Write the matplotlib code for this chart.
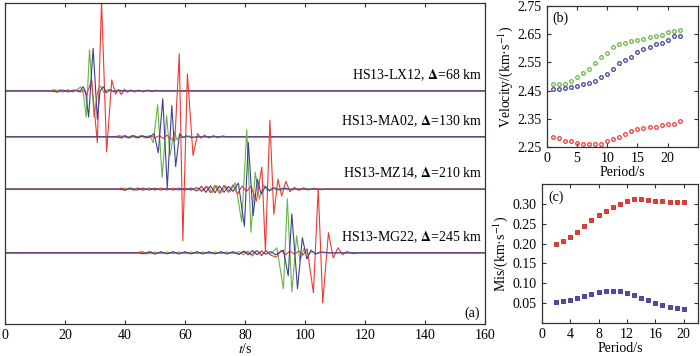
import matplotlib.pyplot as plt

plt.rcParams['font.family'] = ['Liberation Serif', 'DejaVu Serif']
plt.rcParams['mathtext.fontset'] = 'stix'
plt.rcParams['font.size'] = 10

GREEN = '#66b644'
BLUE = '#3f3f99'
RED = '#ee3a32'

# --- (a) waveforms: (time s, amplitude) extrema ---
stations = ['HS13-LX12', 'HS13-MA02', 'HS13-MZ14', 'HS13-MG22']
distances = [68, 130, 210, 245]
offsets = [5.08, 4.08, 2.94, 1.55]

lx12_green = [(15, 0), (18, 0.02), (19, -0.02), (21, 0.02), (22.5, -0.02), (24, 0.02), (25.3, 0.09), (26.1, -0.04),
              (27.1, -0.57), (28.2, 0.90), (29.7, -0.57), (31.0, 0.02), (31.9, 0.11), (33.0, -0.04), (34.2, 0.03),
              (35.5, -0.02), (37, 0.02), (38.5, -0.015), (40, 0)]
lx12_blue = [(15, 0), (17.5, -0.02), (19.5, 0.02), (21, -0.02), (23, 0.02), (24.8, -0.02), (26.1, 0.09), (26.9, -0.02),
             (27.9, -0.57), (29.4, 0.93), (30.8, -0.62), (31.7, 0.0), (32.8, 0.09), (33.8, -0.04), (35, 0.03),
             (36.4, -0.02), (38, 0.015), (40, 0)]
lx12_red = [(15, 0), (16.5, 0.025), (17.5, -0.03), (18.5, 0.025), (19.5, -0.025), (21, 0.02), (22.5, -0.02), (24, 0.02),
            (25.5, -0.025), (26.3, 0.02), (27.2, -0.09), (28.9, 0.24), (30.8, -1.13), (32.2, 1.95), (33.9, -1.33),
            (35.6, 0.24), (36.9, -0.07), (37.8, 0.03), (38.8, -0.08), (39.8, 0.04), (40.8, -0.03), (42, 0.025),
            (43.2, -0.025), (44.5, 0.02), (46, -0.02), (47.5, 0.02), (49, -0.015), (50.5, 0.015), (52, 0)]

ma02_green = [(37, 0), (39, 0.02), (40.5, -0.02), (42, 0.02), (43.5, -0.02), (45, 0.02), (46.5, -0.02), (48.3, 0.03),
              (49.4, -0.13), (50.9, 0.70), (52.4, -0.89), (53.9, 0.46), (55.0, -0.41), (56.4, 0.11), (57.4, -0.07),
              (58.5, 0.03), (60, -0.02), (61.5, 0.02), (63, -0.015), (65, 0)]
ma02_blue = [(37, 0), (38.5, -0.02), (40, 0.02), (41.5, -0.025), (43, 0.025), (44.5, -0.02), (46, 0.02), (48, -0.02),
             (49.7, 0.07), (51.1, -0.35), (52.6, 0.83), (54.1, -1.11), (55.6, 0.68), (56.9, -0.65), (58.2, 0.07),
             (59.2, -0.02), (60.5, 0.02), (62, -0.015), (64, 0)]
ma02_red = [(37, 0), (38, 0.025), (39, -0.03), (40, 0.03), (41, -0.025), (42.5, 0.025), (44, -0.025), (45.5, 0.025),
            (47, -0.025), (48.5, 0.02), (50, -0.025), (51.5, 0.025), (52.8, -0.035), (54, 0.035), (55.2, -0.03),
            (56.6, -0.09), (58.1, 1.81), (59.3, -2.27), (60.8, 1.37), (62.7, -0.41), (64.2, 0.07), (65.3, -0.03),
            (66.5, 0.035), (68, -0.025), (69.5, 0.025), (71, -0.02), (72.5, 0.02), (74, 0)]

mz14_green = [(38, 0), (40, 0.02), (42, -0.02), (44, 0.02), (46, -0.02), (48, 0.02), (50, -0.02), (52, 0.02),
              (54, -0.015), (56, 0.015), (58, -0.02), (60, 0.02), (62, -0.02), (64, 0.03), (66, -0.04), (67.5, 0.06),
              (69, -0.08), (70.5, 0.08), (72, -0.08), (73.5, 0.07), (75, -0.06), (76.8, 0.14), (78.9, -0.72),
              (80.6, 1.29), (82.0, -0.94), (83.4, 0.37), (84.8, -0.22), (86.2, 0.09), (87.5, -0.04), (89, 0.03),
              (90.5, -0.02), (92, 0.02), (94, -0.015), (96, 0)]
mz14_blue = [(38, 0), (40, -0.02), (42, 0.02), (44, -0.02), (46, 0.02), (48, -0.02), (50, 0.02), (52, -0.02),
             (54, 0.02), (56, -0.02), (58, 0.02), (60, -0.02), (62, 0.02), (64, -0.04), (65.5, 0.06), (67, -0.07),
             (68.5, 0.07), (70, -0.08), (71.5, 0.07), (73, -0.07), (74.5, 0.06), (76, -0.05), (77.8, 0.13),
             (79.8, -0.81), (81.1, 1.02), (82.7, -0.58), (84.1, 0.22), (85.4, -0.11), (86.8, 0.06), (88.2, -0.04),
             (89.8, 0.03), (91.5, -0.02), (93, 0.02), (95, 0)]
mz14_red = [(38, 0), (39, 0.025), (40, -0.03), (41.5, 0.025), (43, -0.025), (44.5, 0.025), (46, -0.025), (48, 0.02),
            (50, -0.02), (52, 0.02), (54, -0.02), (56, 0.02), (58, -0.02), (60, 0.02), (62, -0.02), (64, 0.03),
            (65.5, -0.05), (67, 0.06), (68.5, -0.08), (70, 0.08), (71.5, -0.09), (73, 0.08), (74.5, -0.07),
            (76, 0.09), (77.5, -0.11), (79, 0.07), (80.5, -0.05), (82, 0.06), (83.8, -0.26), (85.6, 0.48),
            (86.8, -1.35), (88.3, 1.50), (89.6, -0.55), (91, 0.22), (92.2, -0.15), (93.6, 0.17), (95, -0.06),
            (96.5, 0.04), (98, -0.03), (99.5, 0.03), (101, -0.02), (103, 0.02), (105, -0.015), (107, 0)]

mg22_green = [(44, 0), (46, 0.02), (48, -0.02), (50, 0.02), (52, -0.02), (54, 0.02), (56, -0.02), (58, 0.02),
              (60, -0.02), (62, 0.02), (64, -0.02), (66, 0.02), (68, -0.02), (70, 0.02), (72, -0.02), (74, 0.02),
              (76, -0.015), (78, 0.03), (79.5, -0.04), (81, 0.04), (82.5, -0.07), (84, 0.05), (85.5, -0.04),
              (87, 0.04), (88.5, -0.03), (90.6, 0.11), (92.8, -0.78), (94.1, 1.18), (95.6, -0.85), (97.2, 0.37),
              (98.3, -0.17), (99.6, 0.09), (101, -0.04), (102.5, 0.03), (104, -0.02), (106, 0.02), (108, 0)]
mg22_blue = [(44, 0), (46, -0.02), (48, 0.02), (50, -0.02), (52, 0.02), (54, -0.02), (56, 0.02), (58, -0.02),
             (60, 0.02), (62, -0.02), (64, 0.02), (66, -0.02), (68, 0.02), (70, -0.02), (72, 0.02), (74, -0.02),
             (76, 0.02), (78, -0.03), (79.5, 0.04), (81, -0.04), (82.5, 0.05), (84, -0.04), (85.5, 0.04),
             (87, -0.03), (88.5, 0.03), (90.2, -0.04), (92.8, 0.06), (94.4, -0.50), (95.6, 0.85), (97.5, -0.78),
             (99.1, 0.33), (100.6, -0.13), (102, 0.06), (103.5, -0.03), (105, 0.02), (107, 0)]
mg22_red = [(44, 0), (45.5, 0.025), (47, -0.025), (48.5, 0.025), (50, -0.025), (52, 0.02), (54, -0.02), (56, 0.02),
            (58, -0.02), (60, 0.02), (62, -0.02), (64, 0.02), (66, -0.02), (68, 0.02), (70, -0.02), (72, 0.02),
            (74, -0.02), (76, 0.02), (78, -0.03), (80, 0.03), (82, -0.04), (84, 0.05), (85.5, -0.06), (87, 0.05),
            (88.5, -0.05), (90.5, -0.09), (92, 0.05), (93.5, -0.04), (95, 0.04), (96.5, -0.03), (98, 0.04),
            (99.3, -0.05), (100.7, 0.09), (102.8, -0.87), (104.4, 1.40), (105.9, -1.09), (107.8, 0.44),
            (109.4, -0.11), (111, 0.11), (112.5, -0.04), (114, 0.03), (116, -0.02), (118, 0)]

traces = [
    (lx12_green, lx12_red, lx12_blue),
    (ma02_green, ma02_red, ma02_blue),
    (mz14_green, mz14_red, mz14_blue),
    (mg22_green, mg22_red, mg22_blue),
]

# --- (b) dispersion velocities ---
period_b = list(range(1, 23))
vel_green = [2.473, 2.473, 2.473, 2.484, 2.497, 2.514, 2.527, 2.549, 2.569, 2.584, 2.604,
             2.615, 2.620, 2.625, 2.630, 2.634, 2.640, 2.644, 2.649, 2.658, 2.660, 2.664]
vel_blue = [2.457, 2.457, 2.461, 2.463, 2.468, 2.473, 2.478, 2.484, 2.497, 2.509, 2.527,
            2.549, 2.558, 2.569, 2.586, 2.598, 2.604, 2.614, 2.620, 2.630, 2.644, 2.644]
vel_red = [2.285, 2.281, 2.270, 2.270, 2.266, 2.261, 2.261, 2.261, 2.261, 2.270, 2.278,
           2.287, 2.297, 2.308, 2.313, 2.317, 2.322, 2.322, 2.327, 2.333, 2.333, 2.343]

# --- (c) misfit ---
period_c = list(range(2, 21))
mis_red = [0.198, 0.206, 0.217, 0.230, 0.244, 0.259, 0.272, 0.283, 0.292, 0.300,
           0.307, 0.312, 0.312, 0.309, 0.308, 0.307, 0.305, 0.305, 0.306]
mis_blue = [0.053, 0.054, 0.057, 0.062, 0.068, 0.074, 0.077, 0.081, 0.081, 0.081,
            0.076, 0.071, 0.063, 0.057, 0.050, 0.044, 0.041, 0.037, 0.034]

T_END = 160


def style_box(ax):
    for sp in ax.spines.values():
        sp.set_linewidth(0.9)
        sp.set_color('#333333')
    ax.tick_params(direction='in', top=True, right=True, length=3, width=0.8,
                   colors='#333333', labelcolor='black', labelsize=10)


fig = plt.figure(figsize=(7.0, 3.56), dpi=100)

# (a)
ax = fig.add_axes([0.007, 0.09, 0.686, 0.902])
for off, comps in zip(offsets, traces):
    for pts, col in zip(comps, [GREEN, RED, BLUE]):
        t = [0] + [p[0] for p in pts] + [T_END]
        a = [off] + [off + p[1] for p in pts] + [off]
        ax.plot(t, a, color=col, lw=0.8)
for name, dist, off in zip(stations, distances, offsets):
    ax.text(159, off + 0.34, f'{name}, $\\mathbf{{\\Delta}}$={dist} km', ha='right', va='center', fontsize=10)
ax.text(155.6, 0.24, '(a)', ha='center', va='center', fontsize=10)
ax.set_xlim(0, 160)
ax.set_ylim(0, 7)
ax.set_xticks(range(0, 161, 20))
ax.set_yticks([])
style_box(ax)
ax.tick_params(right=False)
ax.set_xlabel('$t$/s', labelpad=0)

# (b)
axb = fig.add_axes([0.781, 0.587, 0.216, 0.396])
for v, col in [(vel_green, GREEN), (vel_blue, BLUE), (vel_red, RED)]:
    axb.plot(period_b, v, 'o', ls='none', ms=2.6, mfc='none', mec=col, mew=0.9)
axb.set_xlim(0, 25)
axb.set_ylim(2.25, 2.75)
axb.set_xticks([0, 5, 10, 15, 20])
axb.set_yticks([2.25, 2.35, 2.45, 2.55, 2.65, 2.75])
axb.set_yticklabels(['2.25', '2.35', '2.45', '2.55', '2.65', '2.75'])
style_box(axb)
axb.set_xlabel('Period/s', labelpad=1)
axb.set_ylabel('Velocity/(km·s$^{-1}$)', labelpad=2)
axb.text(0.04, 0.915, '(b)', transform=axb.transAxes, ha='left', va='center', fontsize=10)

# (c)
axc = fig.add_axes([0.774, 0.093, 0.223, 0.39])
axc.plot(period_c, mis_red, 's', ls='none', ms=2.6, mfc=RED, mec='#c02a26', mew=0.6)
axc.plot(period_c, mis_blue, 's', ls='none', ms=2.6, mfc='#5a4aa8', mec='#3a2f88', mew=0.6)
axc.set_xlim(0, 22)
axc.set_ylim(0, 0.35)
axc.set_xticks([0, 4, 8, 12, 16, 20])
axc.set_yticks([0.05, 0.10, 0.15, 0.20, 0.25, 0.30])
axc.set_yticklabels(['0.05', '0.10', '0.15', '0.20', '0.25', '0.30'])
style_box(axc)
axc.set_xlabel('Period/s', labelpad=1)
axc.set_ylabel('Mis/(km·s$^{-1}$)', labelpad=2)
axc.text(0.04, 0.906, '(c)', transform=axc.transAxes, ha='left', va='center', fontsize=10)

fig.savefig('out.png', dpi=100)
